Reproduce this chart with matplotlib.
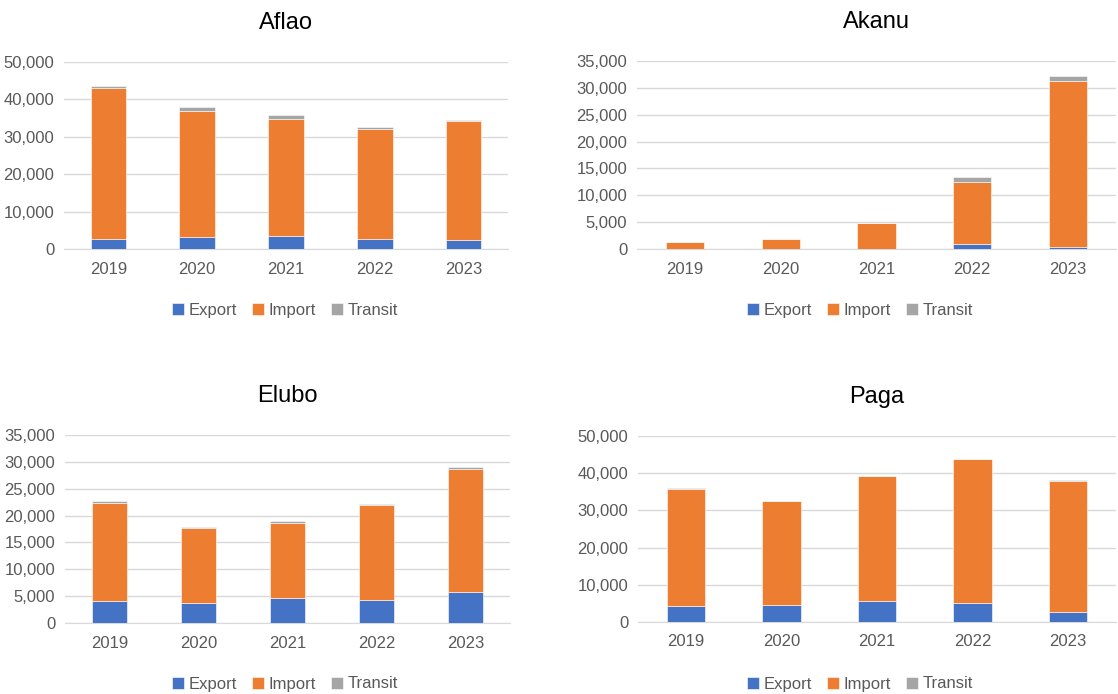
import matplotlib
matplotlib.use("Agg")
import matplotlib.pyplot as plt
import numpy as np
from matplotlib import ticker

YEARS = ["2019", "2020", "2021", "2022", "2023"]
SERIES = ["Export", "Import", "Transit"]
COLORS = ["#4472C4", "#ED7D31", "#A5A5A5"]

aflao_export = [2600, 3100, 3600, 2800, 2300]
aflao_import = [40400, 33700, 31100, 29200, 32000]
aflao_transit = [700, 1200, 1250, 500, 250]

akanu_export = [20, 20, 30, 870, 300]
akanu_import = [1330, 1880, 4850, 11530, 31000]
akanu_transit = [30, 30, 40, 940, 930]

elubo_export = [4100, 3700, 4650, 4300, 5800]
elubo_import = [18200, 14050, 13900, 17600, 22900]
elubo_transit = [450, 150, 350, 200, 400]

paga_export = [4300, 4550, 5650, 5100, 2800]
paga_import = [31500, 27900, 33500, 38700, 35100]
paga_transit = [150, 150, 150, 150, 150]

PANELS = [
    ("Aflao", (aflao_export, aflao_import, aflao_transit), 50000, 10000),
    ("Akanu", (akanu_export, akanu_import, akanu_transit), 35000, 5000),
    ("Elubo", (elubo_export, elubo_import, elubo_transit), 35000, 5000),
    ("Paga", (paga_export, paga_import, paga_transit), 50000, 10000),
]

# axes boxes in pixels: left, top, right, bottom
BOXES = [(64, 62, 508, 249), (637, 61, 1116, 249),
         (65, 435, 510, 623), (638, 436, 1116, 622)]
LEGEND_POS = [(285, 310), (860, 310), (285, 684), (860, 684)]

W, H = 1118, 694
TEXT = "#595959"
FONT = ["Liberation Sans Narrow", "Liberation Sans", "DejaVu Sans"]
plt.rcParams["font.family"] = FONT

fig = plt.figure(figsize=(W / 100, H / 100), dpi=100)

for (name, vals, ymax, step), box, lpos in zip(PANELS, BOXES, LEGEND_POS):
    l, t, r, b = box
    ax = fig.add_axes([l / W, 1 - b / H, (r - l) / W, (b - t) / H])
    x = np.arange(len(YEARS))
    bottom = np.zeros(len(YEARS))
    handles = []
    for label, v, c in zip(SERIES, vals, COLORS):
        v = np.array(v, dtype=float)
        h = ax.bar(x, v, 0.4, bottom=bottom, color=c, label=label,
                   edgecolor="white", linewidth=0.4, zorder=3)
        handles.append(h)
        bottom += v
    ax.set_xlim(-0.5, len(YEARS) - 0.5)
    ax.set_ylim(0, ymax)
    ax.yaxis.set_major_locator(ticker.MultipleLocator(step))
    ax.yaxis.set_major_formatter(ticker.FuncFormatter(lambda v, p: f"{v:,.0f}"))
    ax.set_xticks(x)
    ax.set_xticklabels(YEARS)
    ax.grid(axis="y", color="#D9D9D9", linewidth=1, zorder=0)
    for s in ["top", "right", "left"]:
        ax.spines[s].set_visible(False)
    ax.spines["bottom"].set_color("#D9D9D9")
    ax.tick_params(axis="both", length=0, labelsize=12, labelcolor=TEXT)
    ax.tick_params(axis="y", pad=7)
    ax.tick_params(axis="x", pad=9)
    ax.set_title(name, fontsize=17, color="#000000", pad=24,
                 family=["Liberation Sans", "DejaVu Sans"])
    fig.legend(handles=handles, labels=SERIES, loc="center",
               bbox_to_anchor=(lpos[0] / W, 1 - lpos[1] / H), ncol=3,
               frameon=False, fontsize=12, labelcolor=TEXT,
               handlelength=0.7, handleheight=0.7, handletextpad=0.3,
               columnspacing=0.9)

fig.savefig("out.png", dpi=100)
